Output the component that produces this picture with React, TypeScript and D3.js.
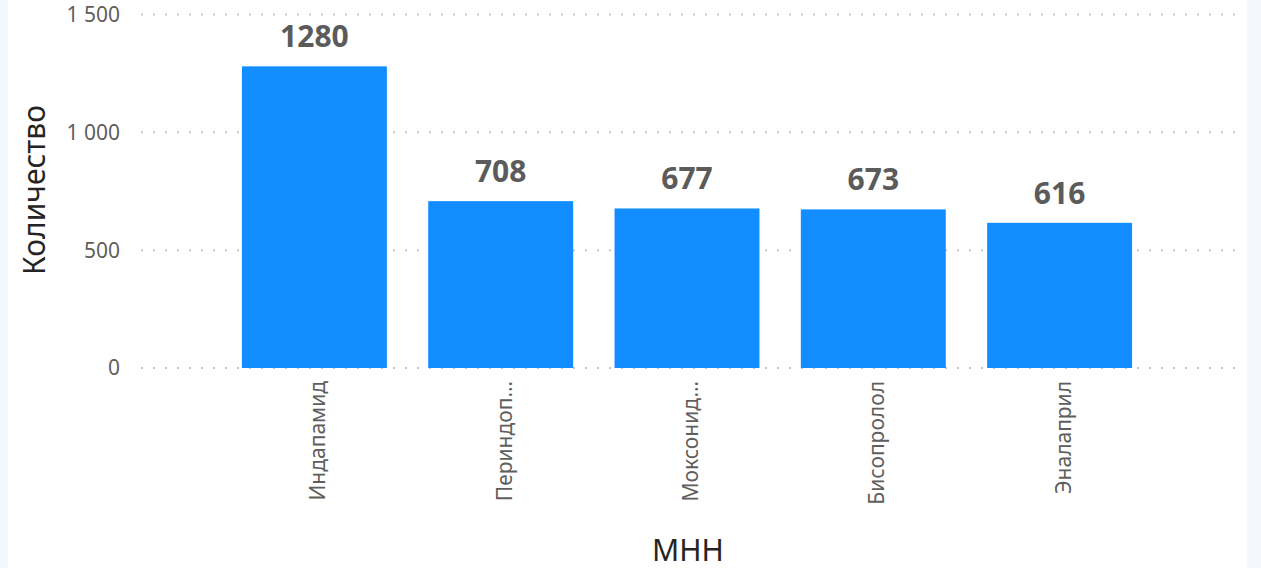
import React, { useRef, useEffect } from 'react';
import * as d3 from 'd3';

const categories = ['Индапамид', 'Периндоп…', 'Моксонид…', 'Бисопролол', 'Эналаприл'];
const values = [1280, 708, 677, 673, 616];
const yTicks = [0, 500, 1000, 1500];

const W = 1261;
const H = 568;
const FONT = '"Segoe UI", "Noto Sans", "Open Sans", sans-serif';

const App: React.FC = () => {
    const svgRef = useRef<SVGSVGElement | null>(null);

    useEffect(() => {
        const svg = d3.select(svgRef.current);
        svg.selectAll('*').remove();

        // page background strips
        svg.append('rect').attr('width', W).attr('height', H).attr('fill', '#f4f8fd');
        svg.append('rect').attr('x', 8).attr('width', 1239).attr('height', H).attr('fill', '#ffffff');

        const x = d3
            .scaleBand<string>()
            .domain(categories)
            .range([140, 1234])
            .paddingInner(0.222)
            .paddingOuter(0.547);

        const y = d3.scaleLinear().domain([0, 1500]).range([368, 14.5]);

        // gridlines
        svg.append('g')
            .selectAll('line')
            .data(yTicks)
            .join('line')
            .attr('x1', 141)
            .attr('x2', 1237)
            .attr('y1', d => y(d))
            .attr('y2', d => y(d))
            .attr('stroke', '#c8c8c8')
            .attr('stroke-width', 2)
            .attr('stroke-dasharray', '2 10');

        // y tick labels
        svg.append('g')
            .selectAll('text')
            .data(yTicks)
            .join('text')
            .attr('x', 120)
            .attr('y', d => y(d))
            .attr('dy', '0.35em')
            .attr('text-anchor', 'end')
            .attr('font-family', FONT)
            .attr('font-size', 21)
            .attr('fill', '#605e5c')
            .text(d => d3.format(',')(d).replace(/,/g, ' '));

        // bars
        svg.append('g')
            .selectAll('rect')
            .data(values)
            .join('rect')
            .attr('x', (_, i) => x(categories[i]) as number)
            .attr('y', d => y(d))
            .attr('width', x.bandwidth())
            .attr('height', d => y(0) - y(d))
            .attr('fill', '#118dff');

        // data labels
        svg.append('g')
            .selectAll('text')
            .data(values)
            .join('text')
            .attr('x', (_, i) => (x(categories[i]) as number) + x.bandwidth() / 2)
            .attr('y', d => y(d) - 19)
            .attr('text-anchor', 'middle')
            .attr('font-family', FONT)
            .attr('font-size', 30)
            .attr('font-weight', 'bold')
            .attr('fill', '#5b5b5b')
            .text(d => d);

        // x tick labels (rotated)
        svg.append('g')
            .selectAll('text')
            .data(categories)
            .join('text')
            .attr('transform', d => `translate(${(x(d) as number) + x.bandwidth() / 2 + 11},381) rotate(-90)`)
            .attr('text-anchor', 'end')
            .attr('font-family', FONT)
            .attr('font-size', 21)
            .attr('fill', '#605e5c')
            .text(d => d);

        // axis titles
        svg.append('text')
            .attr('transform', 'translate(45,190) rotate(-90)')
            .attr('text-anchor', 'middle')
            .attr('font-family', FONT)
            .attr('font-size', 30)
            .attr('fill', '#252423')
            .text('Количество');

        svg.append('text')
            .attr('x', 688)
            .attr('y', 561)
            .attr('text-anchor', 'middle')
            .attr('font-family', FONT)
            .attr('font-size', 30)
            .attr('fill', '#252423')
            .text('МНН');
    }, []);

    return (
        <svg
            ref={svgRef}
            width={W}
            height={H}
            style={{ position: 'absolute', left: 0, top: 0 }}
        />
    );
};

export default App;
